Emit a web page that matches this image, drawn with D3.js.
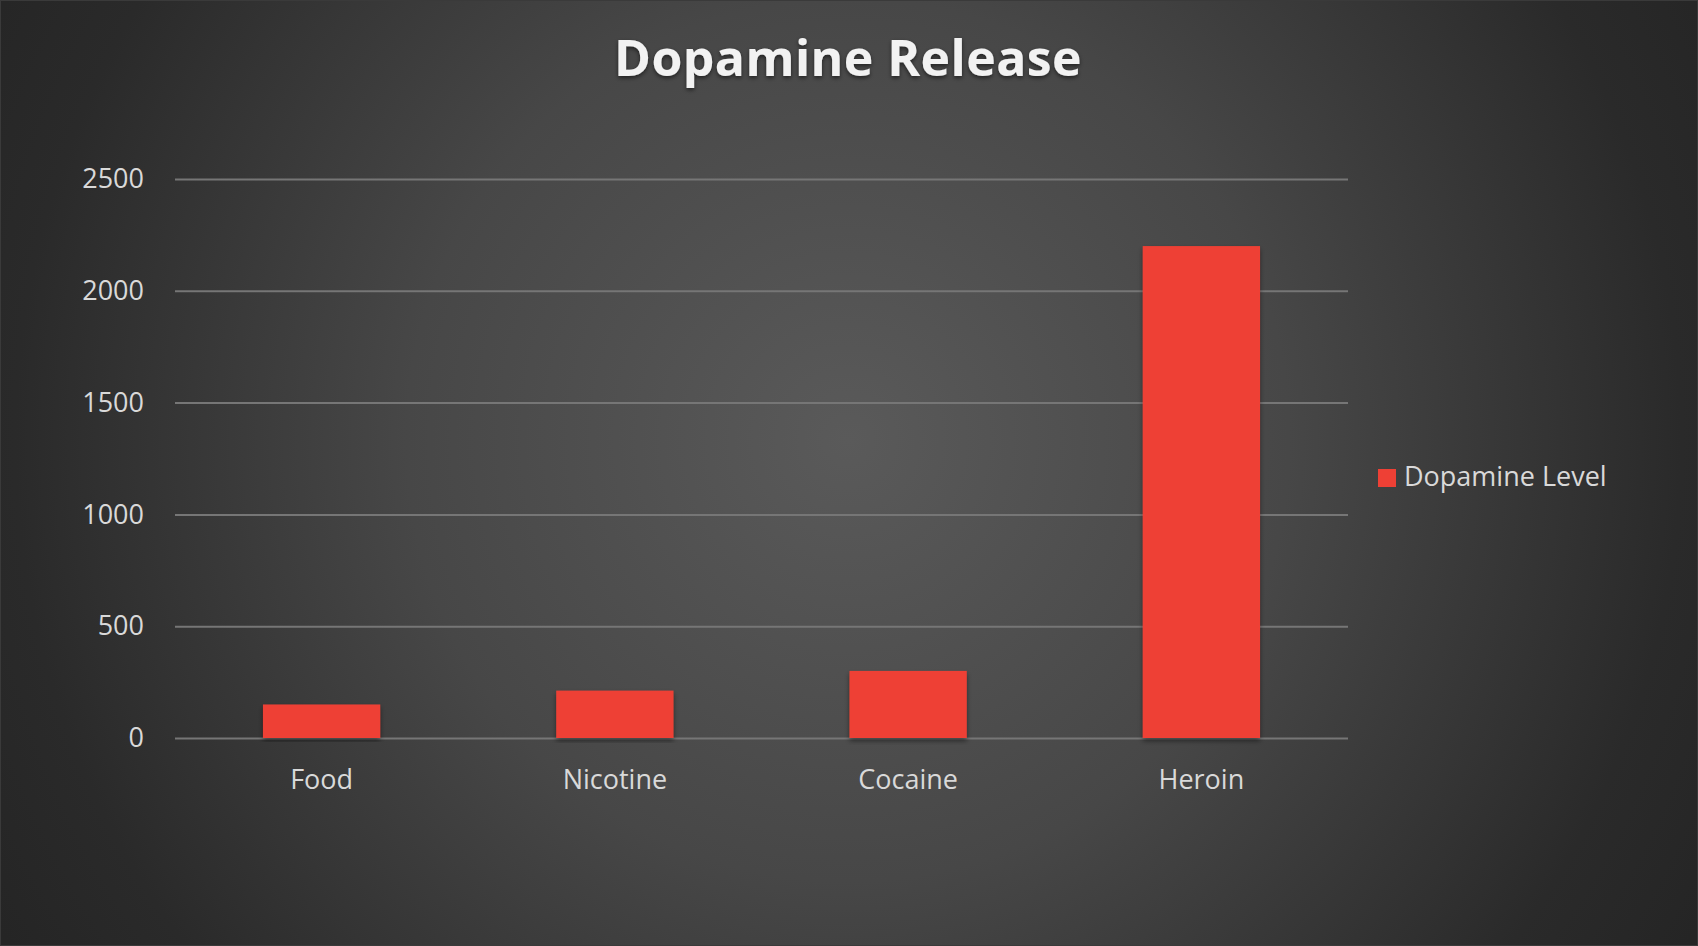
<!DOCTYPE html>
<html>
<head>
<meta charset="utf-8">
<script src="https://cdn.jsdelivr.net/npm/d3@7"></script>
<style>
  html, body { margin: 0; padding: 0; background: #262626; overflow: hidden; }
  svg { display: block; font-family: "Open Sans", "DejaVu Sans", sans-serif; }
</style>
</head>
<body>
<div id="chart"></div>
<script>
const categories = ['Food', 'Nicotine', 'Cocaine', 'Heroin'];
const dopamineLevel = [150, 212, 300, 2200];
const yTicks = [0, 500, 1000, 1500, 2000, 2500];
const seriesName = 'Dopamine Level';
const title = 'Dopamine Release';

const width = 1698;
const height = 946;
const margin = { top: 179, right: 350, bottom: 208, left: 175 };

const svg = d3.select('#chart')
  .append('svg')
  .attr('width', width)
  .attr('height', height);

const defs = svg.append('defs');

// background glow, lighter in the middle
const bg = defs.append('radialGradient')
  .attr('id', 'bg')
  .attr('gradientUnits', 'userSpaceOnUse')
  .attr('cx', 848).attr('cy', 440).attr('r', 980);
bg.append('stop').attr('offset', '0%').attr('stop-color', '#5a5a5a');
bg.append('stop').attr('offset', '45%').attr('stop-color', '#474747');
bg.append('stop').attr('offset', '85%').attr('stop-color', '#2a2a2a');
bg.append('stop').attr('offset', '100%').attr('stop-color', '#252525');

const shadow = defs.append('filter').attr('id', 'shadow')
  .attr('x', '-10%').attr('y', '-10%').attr('width', '120%').attr('height', '130%');
shadow.append('feDropShadow')
  .attr('dx', 0).attr('dy', 2).attr('stdDeviation', 2)
  .attr('flood-color', '#000').attr('flood-opacity', 0.55);

const barShadow = defs.append('filter').attr('id', 'barShadow')
  .attr('x', '-10%').attr('y', '-10%').attr('width', '120%').attr('height', '120%');
barShadow.append('feDropShadow')
  .attr('dx', 0).attr('dy', 3).attr('stdDeviation', 2.5)
  .attr('flood-color', '#000').attr('flood-opacity', 0.45);

svg.append('rect')
  .attr('width', width).attr('height', height)
  .attr('fill', 'url(#bg)')
  .attr('stroke', '#3a3a3a').attr('stroke-width', 2);

const xScale = d3.scaleBand()
  .domain(categories)
  .range([margin.left, width - margin.right])
  .paddingInner(0.6)
  .paddingOuter(0.3);

const yScale = d3.scaleLinear()
  .domain([0, 2500])
  .range([height - margin.bottom, margin.top]);

// gridlines + y labels
const yAxis = d3.axisLeft(yScale)
  .tickValues(yTicks)
  .tickSize(-(width - margin.left - margin.right))
  .tickPadding(31)
  .tickFormat(d3.format('d'));

svg.append('g')
  .attr('transform', `translate(${margin.left},0)`)
  .call(yAxis)
  .call(g => g.select('.domain').remove())
  .call(g => g.selectAll('.tick line')
    .attr('stroke', '#767676').attr('stroke-width', 2))
  .call(g => g.selectAll('.tick text')
    .attr('fill', '#d9d9d9')
    .attr('font-size', 27)
    .attr('font-family', '"Open Sans", sans-serif'));

// bars
svg.append('g')
  .selectAll('rect')
  .data(categories)
  .join('rect')
  .attr('x', d => xScale(d))
  .attr('y', (d, i) => yScale(dopamineLevel[i]))
  .attr('width', xScale.bandwidth())
  .attr('height', (d, i) => yScale(0) - yScale(dopamineLevel[i]))
  .attr('fill', '#ee4035')
  .attr('filter', 'url(#barShadow)');

// x labels
const xAxis = d3.axisBottom(xScale).tickSize(0).tickPadding(32);
svg.append('g')
  .attr('transform', `translate(0,${height - margin.bottom})`)
  .call(xAxis)
  .call(g => g.select('.domain').remove())
  .call(g => g.selectAll('.tick text')
    .attr('fill', '#d9d9d9')
    .attr('font-size', 27)
    .attr('font-family', '"Open Sans", sans-serif'));

// title
svg.append('text')
  .attr('x', 848)
  .attr('y', 76)
  .attr('text-anchor', 'middle')
  .attr('fill', '#f2f2f2')
  .attr('font-size', 50)
  .attr('font-weight', 700)
  .attr('letter-spacing', 0.4)
  .attr('filter', 'url(#shadow)')
  .text(title);

// legend
const legend = svg.append('g').attr('transform', 'translate(1378,469)');
legend.append('rect')
  .attr('width', 18).attr('height', 18)
  .attr('fill', '#ee4035');
legend.append('text')
  .attr('x', 26).attr('y', 17)
  .attr('fill', '#d9d9d9')
  .attr('font-size', 27)
  .text(seriesName);
</script>
</body>
</html>
